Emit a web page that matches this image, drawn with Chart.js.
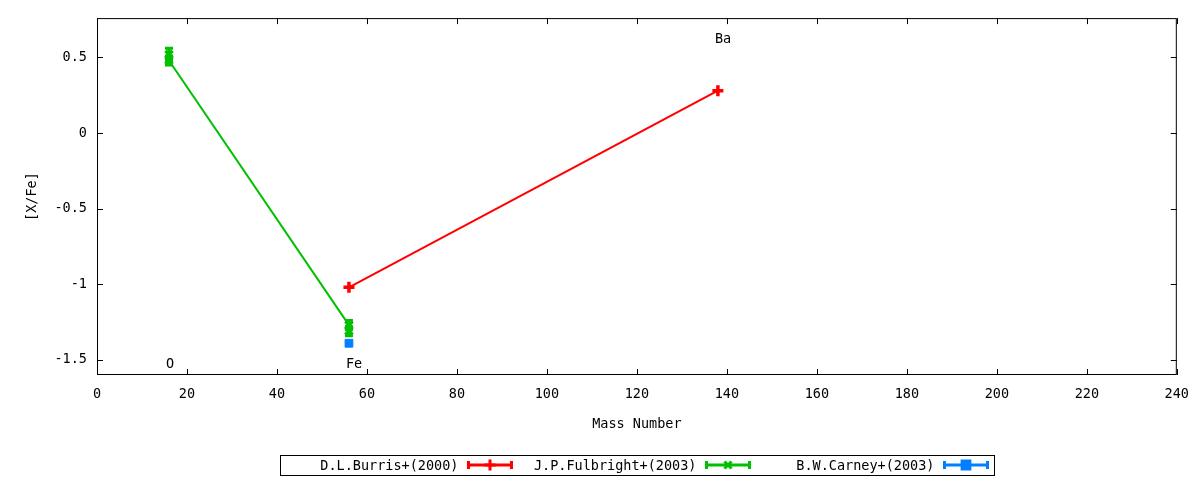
<!DOCTYPE html>
<html>
<head>
<meta charset="utf-8">
<script src="https://cdn.jsdelivr.net/npm/chart.js@4/dist/chart.umd.min.js"></script>
<style>
  html, body { margin: 0; background: #fff; }
  #wrap { width: 1200px; height: 480px; }
</style>
</head>
<body>
<div id="wrap"><canvas id="chart"></canvas></div>
<script>
const FONT = '"DejaVu Sans Mono", monospace';
const FSIZE = 13.5;

// D.L.Burris+(2000)
const burrisMass = [56, 138];
const burrisVal = [-1.02, 0.28];
const burrisErr = [0, 0];

// J.P.Fulbright+(2003)
const fulbrightMass = [16, 16, 56, 56];
const fulbrightVal = [0.52, 0.48, -1.27, -1.31];
const fulbrightErr = [0.04, 0.03, 0.03, 0.03];

// B.W.Carney+(2003)
const carneyMass = [56];
const carneyVal = [-1.39];
const carneyErr = [0];

// element labels
const elemNames = ['O', 'Fe', 'Ba'];
const elemMass = [16, 56, 138];
const elemLabelY = [-1.53, -1.53, 0.62];

const xTicks = [0, 20, 40, 60, 80, 100, 120, 140, 160, 180, 200, 220, 240];
const yTicks = [-1.5, -1, -0.5, 0, 0.5];

function pts(xs, ys) {
  return xs.map((x, i) => ({ x: x, y: ys[i] }));
}

const errorBars = {
  id: 'errorBars',
  afterDatasetsDraw(chart) {
    const ctx = chart.ctx;
    const xs = chart.scales.x, ys = chart.scales.y;
    chart.data.datasets.forEach(ds => {
      if (!ds.errs) return;
      ctx.save();
      ctx.strokeStyle = ds.borderColor;
      ctx.lineWidth = 3;
      ds.data.forEach((p, i) => {
        const e = ds.errs[i];
        if (!e) return;
        const px = xs.getPixelForValue(p.x);
        const y1 = ys.getPixelForValue(p.y - e);
        const y2 = ys.getPixelForValue(p.y + e);
        ctx.beginPath();
        ctx.moveTo(px, y1); ctx.lineTo(px, y2);
        ctx.moveTo(px - 4, y1); ctx.lineTo(px + 4, y1);
        ctx.moveTo(px - 4, y2); ctx.lineTo(px + 4, y2);
        ctx.stroke();
      });
      ctx.restore();
    });
  }
};

const frame = {
  id: 'frame',
  afterDatasetsDraw(chart) {
    const ctx = chart.ctx;
    const a = chart.chartArea;
    const xs = chart.scales.x, ys = chart.scales.y;
    ctx.save();
    ctx.strokeStyle = '#000';
    ctx.lineWidth = 1;
    ctx.strokeRect(a.left + 0.5, a.top + 0.5, a.right - a.left - 1, a.bottom - a.top - 1);
    ctx.beginPath();
    xTicks.forEach(v => {
      const px = Math.round(xs.getPixelForValue(v)) + 0.5;
      ctx.moveTo(px, a.bottom); ctx.lineTo(px, a.bottom - 6);
      ctx.moveTo(px, a.top); ctx.lineTo(px, a.top + 6);
    });
    yTicks.forEach(v => {
      const py = Math.round(ys.getPixelForValue(v)) + 0.5;
      ctx.moveTo(a.left, py); ctx.lineTo(a.left + 6, py);
      ctx.moveTo(a.right, py); ctx.lineTo(a.right - 6, py);
    });
    ctx.stroke();

    // element labels
    ctx.fillStyle = '#000';
    ctx.font = FSIZE + 'px ' + FONT;
    ctx.textAlign = 'left';
    ctx.textBaseline = 'middle';
    elemNames.forEach((n, i) => {
      ctx.fillText(n, xs.getPixelForValue(elemMass[i]) - 3, ys.getPixelForValue(elemLabelY[i]));
    });
    ctx.restore();
  }
};

const keyBox = {
  id: 'keyBox',
  afterDraw(chart) {
    const ctx = chart.ctx;
    const a = chart.chartArea;
    const entryW = 238;
    const n = chart.data.datasets.length;
    const w = entryW * n;
    const left = Math.round((a.left + a.right) / 2 - w / 2) + 0.5;
    const top = 455.5, h = 20, cy = 465;
    ctx.save();
    ctx.strokeStyle = '#000';
    ctx.lineWidth = 1;
    ctx.strokeRect(left, top, w, h);
    ctx.font = FSIZE + 'px ' + FONT;
    ctx.textAlign = 'right';
    ctx.textBaseline = 'middle';
    chart.data.datasets.forEach((ds, i) => {
      const x0 = left + i * entryW;
      ctx.fillStyle = '#000';
      ctx.fillText(ds.label, x0 + 178, cy + 1);
      const s1 = x0 + 188, s2 = x0 + 231;
      ctx.strokeStyle = ds.borderColor;
      ctx.fillStyle = ds.borderColor;
      ctx.lineWidth = 3;
      ctx.beginPath();
      ctx.moveTo(s1, cy); ctx.lineTo(s2, cy);
      ctx.moveTo(s1, cy - 4); ctx.lineTo(s1, cy + 4);
      ctx.moveTo(s2, cy - 4); ctx.lineTo(s2, cy + 4);
      ctx.stroke();
      Chart.helpers.drawPoint(ctx, {
        pointStyle: ds.pointStyle, radius: ds.pointRadius,
        borderWidth: ds.pointBorderWidth, rotation: 0
      }, (s1 + s2) / 2, cy);
    });
    ctx.restore();
  }
};

new Chart(document.getElementById('chart'), {
  type: 'scatter',
  data: {
    datasets: [
      {
        label: 'D.L.Burris+(2000)',
        data: pts(burrisMass, burrisVal),
        errs: burrisErr,
        showLine: true,
        borderColor: '#ff0000', backgroundColor: '#ff0000',
        borderWidth: 2,
        pointStyle: 'cross', pointRadius: 5.5, pointBorderWidth: 3.5,
        pointBorderColor: '#ff0000', pointBackgroundColor: '#ff0000'
      },
      {
        label: 'J.P.Fulbright+(2003)',
        data: pts(fulbrightMass, fulbrightVal),
        errs: fulbrightErr,
        showLine: true,
        borderColor: '#00c000', backgroundColor: '#00c000',
        borderWidth: 2,
        pointStyle: 'crossRot', pointRadius: 5, pointBorderWidth: 3.5,
        pointBorderColor: '#00c000', pointBackgroundColor: '#00c000'
      },
      {
        label: 'B.W.Carney+(2003)',
        data: pts(carneyMass, carneyVal),
        errs: carneyErr,
        showLine: true,
        borderColor: '#0080ff', backgroundColor: '#0080ff',
        borderWidth: 2,
        pointStyle: 'rect', pointRadius: 5.5, pointBorderWidth: 1,
        pointBorderColor: '#0080ff', pointBackgroundColor: '#0080ff'
      }
    ]
  },
  options: {
    responsive: true,
    maintainAspectRatio: false,
    devicePixelRatio: 1,
    animation: false,
    layout: { padding: { left: 20, right: 23, top: 17, bottom: 43 } },
    plugins: { legend: { display: false }, tooltip: { enabled: false } },
    scales: {
      x: {
        type: 'linear', min: 0, max: 240,
        afterFit: s => { s.height = 62; },
        afterBuildTicks: s => { s.ticks = xTicks.map(v => ({ value: v })); },
        grid: { display: false, drawTicks: false },
        border: { display: false },
        ticks: { padding: 11, color: '#000', font: { family: FONT, size: FSIZE }, callback: v => String(v) },
        title: { display: true, text: 'Mass Number', color: '#000', font: { family: FONT, size: FSIZE } }
      },
      y: {
        type: 'linear', min: -1.6, max: 0.76,
        afterFit: s => { s.width = 77; },
        afterBuildTicks: s => { s.ticks = yTicks.map(v => ({ value: v })); },
        grid: { display: false, drawTicks: false },
        border: { display: false },
        ticks: { padding: 10, color: '#000', font: { family: FONT, size: FSIZE }, callback: v => String(v) },
        title: { display: true, text: '[X/Fe]', color: '#000', font: { family: FONT, size: FSIZE } }
      }
    }
  },
  plugins: [errorBars, frame, keyBox]
});
</script>
</body>
</html>
